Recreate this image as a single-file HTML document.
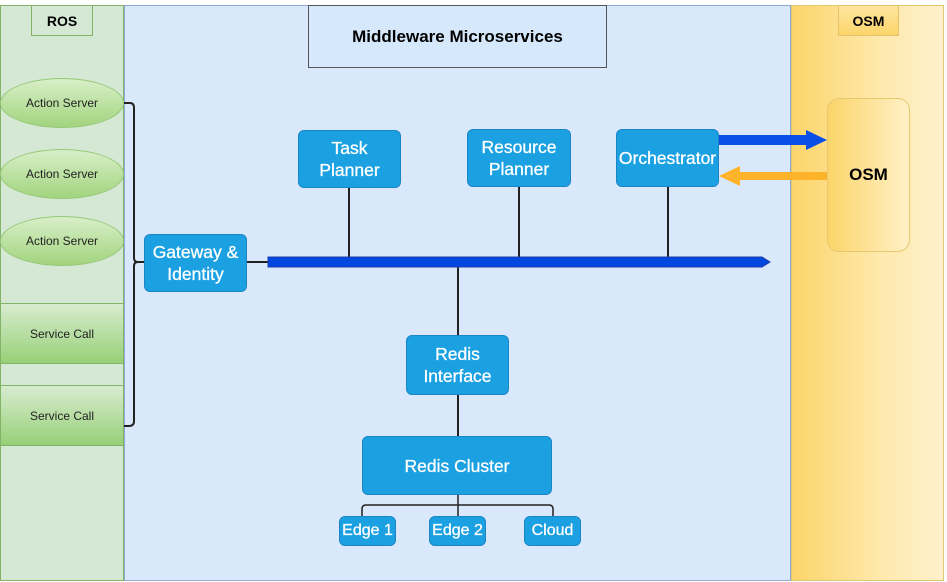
<!DOCTYPE html>
<html><head><style>
body{margin:0;width:947px;height:582px;background:#fff;position:relative;overflow:hidden;font-family:"Liberation Sans",Arial,sans-serif}
div{position:absolute;box-sizing:border-box}
.b{background:#1ba1e2;border:1px solid #1c85c6;border-radius:6px;color:#fff;display:flex;align-items:center;justify-content:center;text-align:center;font-size:17.5px;line-height:22px;-webkit-text-stroke:0.3px #fff}
.e{left:0;width:124px;height:50px;border-radius:50%;border:1px solid #97c87a;background:linear-gradient(#d8efc8,#a2d47e);font-size:12px;display:flex;align-items:center;justify-content:center;color:#222}
.s{left:0;width:124px;height:61px;border:1px solid #82b366;background:linear-gradient(#d8ecd0,#97d077);font-size:12px;display:flex;align-items:center;justify-content:center;color:#222}
</style></head><body>
<div style="left:0;top:5px;width:124px;height:576px;background:#d5e8d4;border:1px solid #82b366"></div>
<div style="left:124px;top:5px;width:667px;height:576px;background:#dae8fc;border:1px solid #8fa9d4"></div>
<div style="left:791px;top:5px;width:153px;height:576px;background:linear-gradient(90deg,#fcd56a,#fee9ae 60%,#fff1cc);border:1px solid #e3c770"></div>
<div style="left:31px;top:5px;width:62px;height:31px;border:1px solid #82b366;background:#d5e8d4;font-weight:bold;font-size:14px;display:flex;align-items:center;justify-content:center">ROS</div>
<div style="left:838px;top:5px;width:61px;height:31px;border:1px solid #e3c26a;background:linear-gradient(#fee6a0,#fcd46a);font-weight:bold;font-size:14px;display:flex;align-items:center;justify-content:center">OSM</div>
<div style="left:308px;top:5px;width:299px;height:63px;border:1px solid #555;background:#d6e8fc;font-weight:bold;font-size:17px;display:flex;align-items:center;justify-content:center">Middleware Microservices</div>
<div class="e" style="top:78px">Action Server</div>
<div class="e" style="top:149px">Action Server</div>
<div class="e" style="top:216px">Action Server</div>
<div class="s" style="top:303px">Service Call</div>
<div class="s" style="top:385px">Service Call</div>
<div style="left:827px;top:98px;width:83px;height:154px;border:1px solid #e8c86f;border-radius:12px;background:linear-gradient(90deg,#fcd56a,#fff0c6);font-weight:bold;font-size:17px;display:flex;align-items:center;justify-content:center">OSM</div>
<svg width="947" height="582" style="position:absolute;left:0;top:0">
<g stroke="#222" stroke-width="2" fill="none">
<path d="M124 103 H130 Q134 103 134 108 V258 Q134 262 138 262 H144 M138 262 Q134 262 134 266 V421 Q134 426 129 426 H124"/>
<line x1="247" y1="262" x2="268" y2="262"/>
<line x1="349" y1="188" x2="349" y2="258"/>
<line x1="519" y1="187" x2="519" y2="258"/>
<line x1="668" y1="187" x2="668" y2="258"/>
<line x1="458" y1="266" x2="458" y2="336"/>
<line x1="458" y1="395" x2="458" y2="437"/>
<path d="M458 495 V516 M458 505 H366 Q362 505 362 509 V516 M458 505 H549 Q553 505 553 509 V516" stroke-width="1.5"/>
</g>
<polygon points="268,257 762,257 770,262 762,267 268,267" fill="#0047e0" stroke="#1b3fa8"/>
<polygon points="719,135 806,135 806,130 827,140 806,150 806,145 719,145" fill="#0a4fe6"/>
<polygon points="827,172 740,172 740,166 719,176 740,186 740,180 827,180" fill="#fdb42a"/>
</svg>
<div class="b" style="left:298px;top:130px;width:103px;height:58px">Task<br>Planner</div>
<div class="b" style="left:467px;top:129px;width:104px;height:58px">Resource<br>Planner</div>
<div class="b" style="left:616px;top:129px;width:103px;height:58px">Orchestrator</div>
<div class="b" style="left:144px;top:234px;width:103px;height:58px">Gateway &amp;<br>Identity</div>
<div class="b" style="left:406px;top:335px;width:103px;height:60px">Redis<br>Interface</div>
<div class="b" style="left:362px;top:436px;width:190px;height:59px">Redis Cluster</div>
<div class="b" style="left:339px;top:516px;width:57px;height:30px;font-size:16px">Edge 1</div>
<div class="b" style="left:429px;top:516px;width:57px;height:30px;font-size:16px">Edge 2</div>
<div class="b" style="left:524px;top:516px;width:57px;height:30px;font-size:16px">Cloud</div>
</body></html>
